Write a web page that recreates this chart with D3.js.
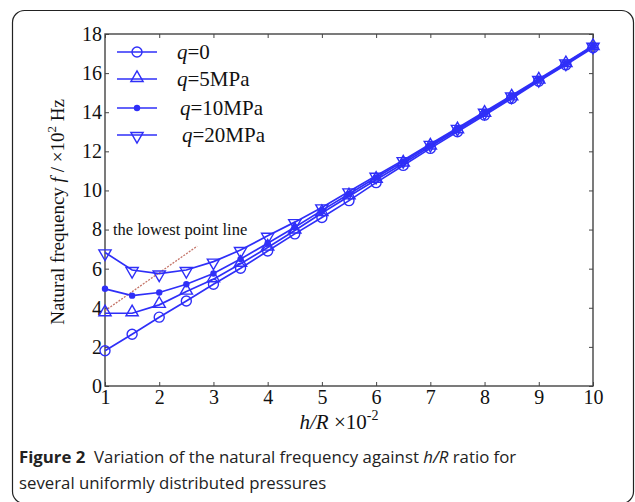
<!DOCTYPE html>
<html>
<head>
<meta charset="utf-8">
<script src="https://cdn.jsdelivr.net/npm/d3@7"></script>
<style>
  body { margin: 0; background: #fff; }
  svg { display: block; }
  .serif { font-family: "Liberation Serif", "Times New Roman", serif; }
</style>
</head>
<body>
<div id="chart"></div>
<script>
const hr = [1, 1.5, 2, 2.5, 3, 3.5, 4, 4.5, 5, 5.5, 6, 6.5, 7, 7.5, 8, 8.5, 9, 9.5, 10];
const q0 = [1.8, 2.65, 3.52, 4.35, 5.2, 6.02, 6.9, 7.78, 8.62, 9.48, 10.4, 11.28, 12.15, 13.0, 13.85, 14.7, 15.58, 16.42, 17.3];
const q5 = [3.72, 3.72, 4.15, 4.83, 5.46, 6.25, 7.08, 7.95, 8.85, 9.7, 10.55, 11.38, 12.25, 13.08, 13.92, 14.76, 15.62, 16.46, 17.34];
const q10 = [4.97, 4.62, 4.78, 5.2, 5.75, 6.49, 7.3, 8.12, 8.98, 9.82, 10.66, 11.48, 12.32, 13.14, 13.97, 14.8, 15.66, 16.5, 17.37];
const q20 = [6.83, 5.93, 5.75, 5.93, 6.36, 6.95, 7.68, 8.38, 9.13, 9.95, 10.75, 11.55, 12.38, 13.2, 14.02, 14.85, 15.7, 16.54, 17.4];
const seriesNames = ["=0", "=5MPa", "=10MPa", "=20MPa"];
const seriesMarkers = ["circle", "triangleUp", "dot", "triangleDown"];
const xTicks = [1, 2, 3, 4, 5, 6, 7, 8, 9, 10];
const yTicks = [0, 2, 4, 6, 8, 10, 12, 14, 16, 18];
const lowestLine = [[1, 3.85], [2.7, 7.15]];

const width = 635, height = 502;
const margin = { top: 34, right: 42, bottom: 116, left: 105 };
const blue = "#2f2ff8";

const svg = d3.select("#chart").append("svg")
  .attr("width", width).attr("height", height);

// figure frame
svg.append("rect")
  .attr("x", 12.5).attr("y", 10.5)
  .attr("width", 621).attr("height", 493)
  .attr("rx", 12)
  .attr("fill", "none").attr("stroke", "#222").attr("stroke-width", 1.2);

const x = d3.scaleLinear().domain([1, 10]).range([margin.left, width - margin.right]);
const y = d3.scaleLinear().domain([0, 18]).range([height - margin.bottom, margin.top]);

const g = svg.append("g").attr("class", "serif");

// axes with inward ticks
g.append("g")
  .attr("transform", `translate(0,${y(0)})`)
  .call(d3.axisBottom(x).tickValues(xTicks).tickSize(-4).tickPadding(4).tickFormat(d3.format("d")))
  .call((a) => a.select(".domain").remove())
  .call((a) => a.selectAll("text").attr("font-size", 20).attr("fill", "#111").attr("font-family", "Liberation Serif"));

g.append("g")
  .attr("transform", `translate(0,${y(18)})`)
  .call(d3.axisTop(x).tickValues(xTicks).tickSize(-4).tickFormat(""))
  .call((a) => a.select(".domain").remove());

g.append("g")
  .attr("transform", `translate(${x(1)},0)`)
  .call(d3.axisLeft(y).tickValues(yTicks).tickSize(-4).tickPadding(3))
  .call((a) => a.select(".domain").remove())
  .call((a) => a.selectAll("text").attr("font-size", 20).attr("fill", "#111").attr("font-family", "Liberation Serif"));

g.append("g")
  .attr("transform", `translate(${x(10)},0)`)
  .call(d3.axisRight(y).tickValues(yTicks).tickSize(-4).tickFormat(""))
  .call((a) => a.select(".domain").remove());

g.selectAll(".tick line").attr("stroke", "#444");

g.append("rect")
  .attr("x", x(1)).attr("y", y(18))
  .attr("width", x(10) - x(1)).attr("height", y(0) - y(18))
  .attr("fill", "none").attr("stroke", "#444").attr("stroke-width", 1.4);

// axis titles
const yt = g.append("text")
  .attr("transform", `translate(64,${(y(0) + y(18)) / 2 + 2}) rotate(-90)`)
  .attr("text-anchor", "middle")
  .attr("font-size", 19).attr("fill", "#111");
yt.append("tspan").text("Natural frequency ");
yt.append("tspan").attr("font-style", "italic").text("f");
yt.append("tspan").text(" / ×10");
yt.append("tspan").attr("font-size", 13).attr("dy", -8).text("2");
yt.append("tspan").attr("dy", 8).text(" Hz");

const xt = g.append("text")
  .attr("x", (x(1) + x(10)) / 2 - 10).attr("y", 429)
  .attr("text-anchor", "middle")
  .attr("font-size", 21).attr("fill", "#111");
xt.append("tspan").attr("font-style", "italic").text("h/R");
xt.append("tspan").text(" ×10");
xt.append("tspan").attr("font-size", 14).attr("dy", -9).text("-2");

// lowest point line
g.append("line")
  .attr("x1", x(lowestLine[0][0])).attr("y1", y(lowestLine[0][1]))
  .attr("x2", x(lowestLine[1][0])).attr("y2", y(lowestLine[1][1]))
  .attr("stroke", "#c47468").attr("stroke-width", 1.3).attr("stroke-dasharray", "2,1.3");

g.append("text")
  .attr("x", 113).attr("y", y(8) + 5)
  .attr("font-size", 16.5).attr("fill", "#111")
  .text("the lowest point line");

// series
const allSeries = [q0, q5, q10, q20].map((vals, i) => ({
  name: seriesNames[i],
  marker: seriesMarkers[i],
  values: vals.map((v, j) => [hr[j], v]),
}));

const line = d3.line().x((d) => x(d[0])).y((d) => y(d[1]));

function drawMarker(sel, type) {
  if (type === "circle") {
    sel.append("circle").attr("r", 5).attr("fill", "none").attr("stroke", blue).attr("stroke-width", 1.4);
  } else if (type === "dot") {
    sel.append("circle").attr("r", 3.2).attr("fill", blue);
  } else {
    const sym = d3.symbol().type(d3.symbolTriangle).size(65);
    sel.append("path").attr("d", sym())
      .attr("transform", type === "triangleDown" ? "rotate(180) translate(0,-1)" : "translate(0,-1)")
      .attr("fill", "none").attr("stroke", blue).attr("stroke-width", 1.4);
  }
}

const gs = g.append("g").selectAll("g").data(allSeries).join("g");
gs.append("path")
  .attr("d", (d) => line(d.values))
  .attr("fill", "none").attr("stroke", blue).attr("stroke-width", 1.7);
gs.each(function (s) {
  d3.select(this).selectAll("g.m").data(s.values).join("g")
    .attr("class", "m")
    .attr("transform", (d) => `translate(${x(d[0])},${y(d[1])})`)
    .call((m) => drawMarker(m, s.marker));
});

// legend
const legY = [52, 79, 108, 135];
const legX = [177, 177, 180, 182];
const leg = g.append("g").selectAll("g").data(allSeries).join("g")
  .attr("transform", (d, i) => `translate(0,${legY[i]})`);
leg.append("line").attr("x1", 117).attr("x2", 157)
  .attr("stroke", blue).attr("stroke-width", 1.7);
leg.append("g").attr("transform", "translate(137,0)")
  .each(function (d) { drawMarker(d3.select(this), d.marker); });
leg.append("text")
  .attr("x", (d, i) => legX[i]).attr("y", 7)
  .attr("font-size", 21).attr("fill", "#111")
  .call((t) => t.append("tspan").attr("font-style", "italic").text("q"))
  .call((t) => t.append("tspan").text((d) => d.name));

// caption
const cap = svg.append("g")
  .attr("font-family", "'Open Sans', 'Noto Sans', sans-serif")
  .attr("font-size", 16.8).attr("fill", "#222");
const c1 = cap.append("text").attr("x", 19).attr("y", 463);
c1.append("tspan").attr("font-weight", "bold").text("Figure 2");
c1.append("tspan").text("\u00a0 Variation of the natural frequency against ");
c1.append("tspan").attr("font-style", "italic").text("h/R");
c1.append("tspan").text(" ratio for");
cap.append("text").attr("x", 19).attr("y", 489)
  .text("several uniformly distributed pressures");
</script>
</body>
</html>
